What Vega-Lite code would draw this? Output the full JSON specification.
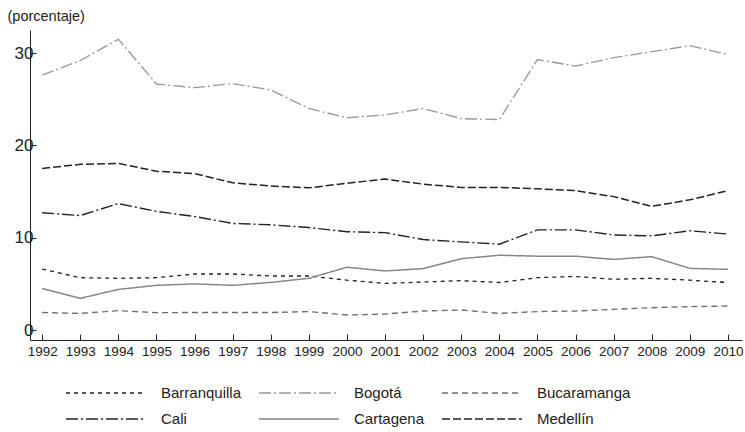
{
  "$schema": "https://vega.github.io/schema/vega-lite/v6.json",
  "width": 712,
  "height": 310,
  "autosize": {"type": "none"},
  "padding": {"left": 30, "top": 30, "right": 3, "bottom": 92},
  "background": "white",
  "config": {
    "view": {"stroke": null},
    "font": "Liberation Sans",
    "axis": {"grid": false, "domainColor": "#222", "tickColor": "#222", "labelColor": "#222", "titleColor": "#222"},
    "legend": {
      "orient": "none",
      "legendX": 65,
      "legendY": 352,
      "direction": "horizontal",
      "columns": 3,
      "symbolType": "M-4,0H4",
      "symbolSize": 400,
      "symbolStrokeWidth": 1.6,
      "rowPadding": 7,
      "columnPadding": 14,
      "labelOffset": 44,
      "labelFont": "Liberation Sans",
      "labelFontSize": 15,
      "labelColor": "#222",
      "labelLimit": 200,
      "title": null
    }
  },
  "data": {
    "values": [
      {"ciudad": "Barranquilla", "anio": 1992, "valor": 6.6},
      {"ciudad": "Barranquilla", "anio": 1993, "valor": 5.67},
      {"ciudad": "Barranquilla", "anio": 1994, "valor": 5.6},
      {"ciudad": "Barranquilla", "anio": 1995, "valor": 5.67},
      {"ciudad": "Barranquilla", "anio": 1996, "valor": 6.07},
      {"ciudad": "Barranquilla", "anio": 1997, "valor": 6.07},
      {"ciudad": "Barranquilla", "anio": 1998, "valor": 5.85},
      {"ciudad": "Barranquilla", "anio": 1999, "valor": 5.85},
      {"ciudad": "Barranquilla", "anio": 2000, "valor": 5.4},
      {"ciudad": "Barranquilla", "anio": 2001, "valor": 5.05},
      {"ciudad": "Barranquilla", "anio": 2002, "valor": 5.2},
      {"ciudad": "Barranquilla", "anio": 2003, "valor": 5.35},
      {"ciudad": "Barranquilla", "anio": 2004, "valor": 5.15},
      {"ciudad": "Barranquilla", "anio": 2005, "valor": 5.67},
      {"ciudad": "Barranquilla", "anio": 2006, "valor": 5.8},
      {"ciudad": "Barranquilla", "anio": 2007, "valor": 5.5},
      {"ciudad": "Barranquilla", "anio": 2008, "valor": 5.6},
      {"ciudad": "Barranquilla", "anio": 2009, "valor": 5.4},
      {"ciudad": "Barranquilla", "anio": 2010, "valor": 5.15},
      {"ciudad": "Bogotá", "anio": 1992, "valor": 27.6},
      {"ciudad": "Bogotá", "anio": 1993, "valor": 29.2},
      {"ciudad": "Bogotá", "anio": 1994, "valor": 31.5},
      {"ciudad": "Bogotá", "anio": 1995, "valor": 26.65},
      {"ciudad": "Bogotá", "anio": 1996, "valor": 26.25},
      {"ciudad": "Bogotá", "anio": 1997, "valor": 26.7},
      {"ciudad": "Bogotá", "anio": 1998, "valor": 26.0},
      {"ciudad": "Bogotá", "anio": 1999, "valor": 24.0},
      {"ciudad": "Bogotá", "anio": 2000, "valor": 23.0},
      {"ciudad": "Bogotá", "anio": 2001, "valor": 23.3},
      {"ciudad": "Bogotá", "anio": 2002, "valor": 24.0},
      {"ciudad": "Bogotá", "anio": 2003, "valor": 22.9},
      {"ciudad": "Bogotá", "anio": 2004, "valor": 22.8},
      {"ciudad": "Bogotá", "anio": 2005, "valor": 29.3},
      {"ciudad": "Bogotá", "anio": 2006, "valor": 28.6},
      {"ciudad": "Bogotá", "anio": 2007, "valor": 29.5},
      {"ciudad": "Bogotá", "anio": 2008, "valor": 30.15},
      {"ciudad": "Bogotá", "anio": 2009, "valor": 30.8},
      {"ciudad": "Bogotá", "anio": 2010, "valor": 29.85},
      {"ciudad": "Bucaramanga", "anio": 1992, "valor": 1.9},
      {"ciudad": "Bucaramanga", "anio": 1993, "valor": 1.8},
      {"ciudad": "Bucaramanga", "anio": 1994, "valor": 2.1},
      {"ciudad": "Bucaramanga", "anio": 1995, "valor": 1.88},
      {"ciudad": "Bucaramanga", "anio": 1996, "valor": 1.9},
      {"ciudad": "Bucaramanga", "anio": 1997, "valor": 1.9},
      {"ciudad": "Bucaramanga", "anio": 1998, "valor": 1.9},
      {"ciudad": "Bucaramanga", "anio": 1999, "valor": 2.0},
      {"ciudad": "Bucaramanga", "anio": 2000, "valor": 1.63},
      {"ciudad": "Bucaramanga", "anio": 2001, "valor": 1.73},
      {"ciudad": "Bucaramanga", "anio": 2002, "valor": 2.06},
      {"ciudad": "Bucaramanga", "anio": 2003, "valor": 2.17},
      {"ciudad": "Bucaramanga", "anio": 2004, "valor": 1.8},
      {"ciudad": "Bucaramanga", "anio": 2005, "valor": 2.0},
      {"ciudad": "Bucaramanga", "anio": 2006, "valor": 2.06},
      {"ciudad": "Bucaramanga", "anio": 2007, "valor": 2.24},
      {"ciudad": "Bucaramanga", "anio": 2008, "valor": 2.42},
      {"ciudad": "Bucaramanga", "anio": 2009, "valor": 2.53},
      {"ciudad": "Bucaramanga", "anio": 2010, "valor": 2.6},
      {"ciudad": "Cali", "anio": 1992, "valor": 12.7},
      {"ciudad": "Cali", "anio": 1993, "valor": 12.4},
      {"ciudad": "Cali", "anio": 1994, "valor": 13.7},
      {"ciudad": "Cali", "anio": 1995, "valor": 12.85},
      {"ciudad": "Cali", "anio": 1996, "valor": 12.3},
      {"ciudad": "Cali", "anio": 1997, "valor": 11.55},
      {"ciudad": "Cali", "anio": 1998, "valor": 11.4},
      {"ciudad": "Cali", "anio": 1999, "valor": 11.1},
      {"ciudad": "Cali", "anio": 2000, "valor": 10.65},
      {"ciudad": "Cali", "anio": 2001, "valor": 10.55},
      {"ciudad": "Cali", "anio": 2002, "valor": 9.8},
      {"ciudad": "Cali", "anio": 2003, "valor": 9.55},
      {"ciudad": "Cali", "anio": 2004, "valor": 9.3},
      {"ciudad": "Cali", "anio": 2005, "valor": 10.85},
      {"ciudad": "Cali", "anio": 2006, "valor": 10.85},
      {"ciudad": "Cali", "anio": 2007, "valor": 10.3},
      {"ciudad": "Cali", "anio": 2008, "valor": 10.2},
      {"ciudad": "Cali", "anio": 2009, "valor": 10.75},
      {"ciudad": "Cali", "anio": 2010, "valor": 10.4},
      {"ciudad": "Cartagena", "anio": 1992, "valor": 4.5},
      {"ciudad": "Cartagena", "anio": 1993, "valor": 3.43},
      {"ciudad": "Cartagena", "anio": 1994, "valor": 4.4},
      {"ciudad": "Cartagena", "anio": 1995, "valor": 4.84},
      {"ciudad": "Cartagena", "anio": 1996, "valor": 5.0},
      {"ciudad": "Cartagena", "anio": 1997, "valor": 4.84},
      {"ciudad": "Cartagena", "anio": 1998, "valor": 5.16},
      {"ciudad": "Cartagena", "anio": 1999, "valor": 5.6},
      {"ciudad": "Cartagena", "anio": 2000, "valor": 6.8},
      {"ciudad": "Cartagena", "anio": 2001, "valor": 6.4},
      {"ciudad": "Cartagena", "anio": 2002, "valor": 6.65},
      {"ciudad": "Cartagena", "anio": 2003, "valor": 7.73},
      {"ciudad": "Cartagena", "anio": 2004, "valor": 8.1},
      {"ciudad": "Cartagena", "anio": 2005, "valor": 8.0},
      {"ciudad": "Cartagena", "anio": 2006, "valor": 8.0},
      {"ciudad": "Cartagena", "anio": 2007, "valor": 7.65},
      {"ciudad": "Cartagena", "anio": 2008, "valor": 7.95},
      {"ciudad": "Cartagena", "anio": 2009, "valor": 6.68},
      {"ciudad": "Cartagena", "anio": 2010, "valor": 6.57},
      {"ciudad": "Medellín", "anio": 1992, "valor": 17.5},
      {"ciudad": "Medellín", "anio": 1993, "valor": 17.95},
      {"ciudad": "Medellín", "anio": 1994, "valor": 18.05},
      {"ciudad": "Medellín", "anio": 1995, "valor": 17.2},
      {"ciudad": "Medellín", "anio": 1996, "valor": 16.95},
      {"ciudad": "Medellín", "anio": 1997, "valor": 15.95},
      {"ciudad": "Medellín", "anio": 1998, "valor": 15.6},
      {"ciudad": "Medellín", "anio": 1999, "valor": 15.4},
      {"ciudad": "Medellín", "anio": 2000, "valor": 15.9},
      {"ciudad": "Medellín", "anio": 2001, "valor": 16.35},
      {"ciudad": "Medellín", "anio": 2002, "valor": 15.8},
      {"ciudad": "Medellín", "anio": 2003, "valor": 15.45},
      {"ciudad": "Medellín", "anio": 2004, "valor": 15.45},
      {"ciudad": "Medellín", "anio": 2005, "valor": 15.3},
      {"ciudad": "Medellín", "anio": 2006, "valor": 15.1},
      {"ciudad": "Medellín", "anio": 2007, "valor": 14.45},
      {"ciudad": "Medellín", "anio": 2008, "valor": 13.4},
      {"ciudad": "Medellín", "anio": 2009, "valor": 14.1},
      {"ciudad": "Medellín", "anio": 2010, "valor": 15.1}
    ]
  },
  "mark": {"type": "line", "clip": false},
  "encoding": {
    "x": {
      "field": "anio",
      "type": "quantitative",
      "scale": {"domain": [1991.68, 2010.37], "nice": false, "zero": false},
      "axis": {
        "title": null,
        "values": [1992,1993,1994,1995,1996,1997,1998,1999,2000,2001,2002,2003,2004,2005,2006,2007,2008,2009,2010],
        "format": "d",
        "tickSize": -6,
        "labelPadding": 10,
        "labelFontSize": 13.5,
        "labelOverlap": false,
        "labelFlush": false
      }
    },
    "y": {
      "field": "valor",
      "type": "quantitative",
      "scale": {"domain": [-1.08, 32.5], "nice": false, "zero": false},
      "axis": {
        "title": "(porcentaje)",
        "titleAngle": 0,
        "titleAlign": "left",
        "titleBaseline": "alphabetic",
        "titleX": -23,
        "titleY": -10,
        "titleFontSize": 14.5,
        "titleFontWeight": "normal",
        "values": [0, 10, 20, 30],
        "tickSize": -6,
        "labelPadding": 3,
        "labelFontSize": 17
      }
    },
    "color": {
      "field": "ciudad",
      "type": "nominal",
      "scale": {
        "domain": ["Barranquilla", "Bogotá", "Bucaramanga", "Cali", "Cartagena", "Medellín"],
        "range": ["#222222", "#999999", "#6e6e6e", "#222222", "#858585", "#222222"]
      }
    },
    "strokeDash": {
      "field": "ciudad",
      "type": "nominal",
      "scale": {
        "domain": ["Barranquilla", "Bogotá", "Bucaramanga", "Cali", "Cartagena", "Medellín"],
        "range": [[4, 4], [12, 3, 2, 3], [6, 4], [12, 3, 2, 3], [1, 0], [8, 3]]
      }
    },
    "strokeWidth": {
      "field": "ciudad",
      "type": "nominal",
      "scale": {
        "domain": ["Barranquilla", "Bogotá", "Bucaramanga", "Cali", "Cartagena", "Medellín"],
        "range": [1.3, 1.5, 2.4, 2.2, 1.7, 2.2]
      }
    }
  }
}
